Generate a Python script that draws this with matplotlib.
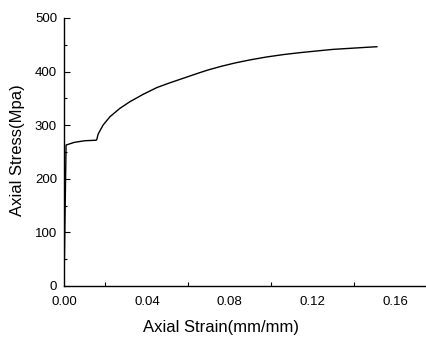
import numpy as np
import matplotlib.pyplot as plt

# stress-strain curve
strain = [0.0, 0.0010, 0.005, 0.010, 0.0155, 0.0158, 0.0165, 0.0189, 0.0222,
          0.0270, 0.0318, 0.0382, 0.0447, 0.0503, 0.0575, 0.0655, 0.0695,
          0.0760, 0.0830, 0.0900, 0.0978, 0.1060, 0.1137, 0.1296, 0.146,
          0.151]
stress = [0, 263, 268, 271, 272, 273, 283.6, 300.4, 315.9,
          331.5, 343.8, 357.6, 370, 378, 387.5, 398, 403,
          410, 416.5, 422, 427.3, 431.8, 435.3, 441.4, 445.3,
          446.4]

xticks = [0.00, 0.04, 0.08, 0.12, 0.16]
xticklabels = ['0.00', '0.04', '0.08', '0.12', '0.16']
xminor = [0.02, 0.06, 0.10, 0.14]
yticks = [0, 100, 200, 300, 400, 500]
yminor = [50, 150, 250, 350, 450]

plt.rcParams['font.family'] = 'Liberation Sans'

fig = plt.figure(figsize=(4.27, 3.38), dpi=100)
ax = fig.add_axes([64 / 427, 52 / 338, 1 - 64 / 427, 268 / 338])
ax.plot(strain, stress, color='black', lw=1.0)

ax.set_xlim(0, 0.1752)
ax.set_ylim(0, 500)
ax.set_xticks(xticks)
ax.set_xticklabels(xticklabels)
ax.set_xticks(xminor, minor=True)
ax.set_yticks(yticks)
ax.set_yticks(yminor, minor=True)

ax.tick_params(axis='x', which='major', length=0, pad=7, labelsize=9.5)
ax.tick_params(axis='x', which='minor', direction='in', length=3, width=0.8)
ax.tick_params(axis='y', which='major', direction='in', length=4, width=0.8,
               pad=5, labelsize=9.5)
ax.tick_params(axis='y', which='minor', direction='in', length=2, width=0.8)

for s in ['top', 'right']:
    ax.spines[s].set_visible(False)
for s in ['left', 'bottom']:
    ax.spines[s].set_linewidth(1.0)

ax.set_xlabel('Axial Strain(mm/mm)', fontsize=12)
ax.set_ylabel('Axial Stress(Mpa)', fontsize=12)
ax.xaxis.set_label_coords((221 - 64) / (427 - 64), -(320 - 286) / 268)
ax.yaxis.set_label_coords(-(64 - 25) / (427 - 64), (286 - 150) / 268)

fig.savefig('out.png', dpi=100)
